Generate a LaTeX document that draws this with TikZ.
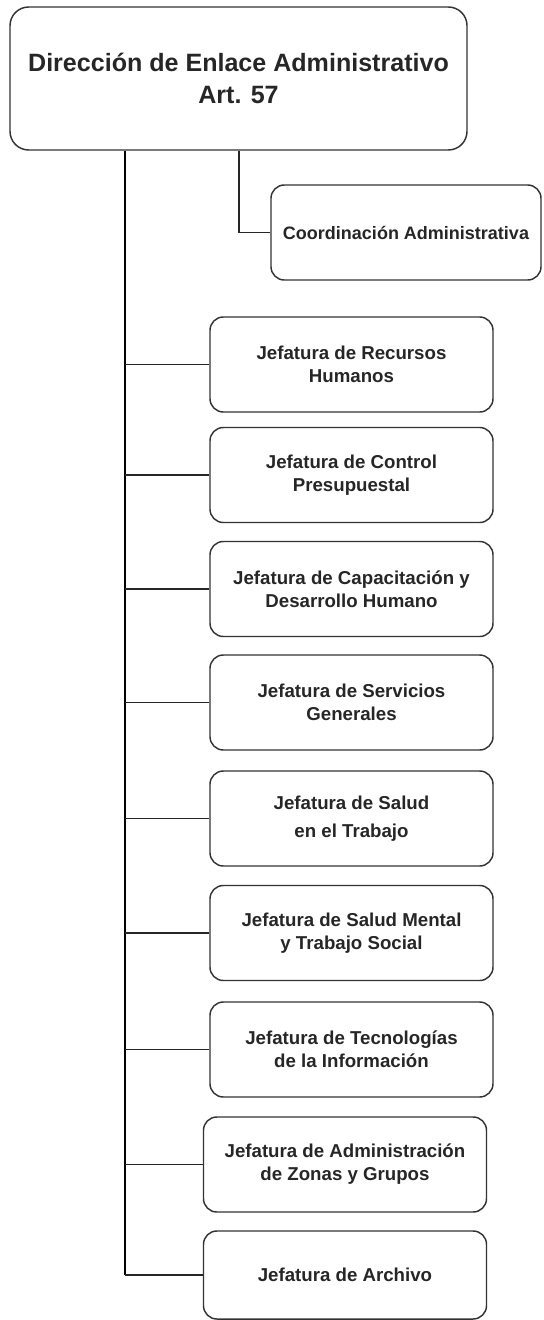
\documentclass[tikz,border=0pt]{standalone}
\usepackage{fontspec}
\setmainfont{Liberation Sans}
\begin{document}
\begin{tikzpicture}[x=0.75pt,y=-0.75pt,
  unit/.style={draw=black!80, line width=1.1pt, rounded corners=10pt, align=center, inner sep=0pt,
    text=black!85, font=\fontsize{14}{17.25}\selectfont\bfseries,
    minimum width=212.25pt, minimum height=71.25pt},
  link/.style={black!85, line width=1.1pt}]
\useasboundingbox (0,0) rectangle (543,1320);
\coordinate (trunk) at (125,0);
\coordinate (side) at (239,0);
\node[unit, minimum width=342.75pt, minimum height=107.25pt, rounded corners=14pt,
  font=\fontsize{18.8}{24}\selectfont\bfseries] (dir) at (238.5,78.5)
  {Dirección de Enlace Administrativo\\Art. 57};
\node[unit, minimum width=202.5pt, font=\fontsize{13.5}{17.25}\selectfont\bfseries] (coord) at (406,232.5) {Coordinación Administrativa};
\foreach \n/\x/\y/\t in {
  1/351.5/364.5/{Jefatura de Recursos\\Humanos},
  2/351.5/475/{Jefatura de Control\\Presupuestal},
  3/351.5/589/{Jefatura de Capacitación y\\Desarrollo Humano},
  4/351.5/702.5/{Jefatura de Servicios\\Generales},
  5/351.5/818.5/{Jefatura de Salud\\[4pt]en el Trabajo},
  6/351.5/933/{Jefatura de Salud Mental\\y Trabajo Social},
  7/351.5/1049.5/{Jefatura de Tecnologías\\de la Información},
  8/345/1164.5/{Jefatura de Administración\\de Zonas y Grupos}}
 \node[unit] (j\n) at (\x,\y) {\t};
\node[unit, minimum height=66pt] (j9) at (345,1275) {Jefatura de Archivo};
% connectors
\draw[link, line width=1.6pt, black] (dir.south -| trunk) -- (trunk |- j9.west);
\foreach \n in {1,...,9}
 \draw[link] (trunk |- j\n.west) -- (j\n.west);
\draw[link] (dir.south -| side) |- (coord.west);
\end{tikzpicture}
\end{document}
